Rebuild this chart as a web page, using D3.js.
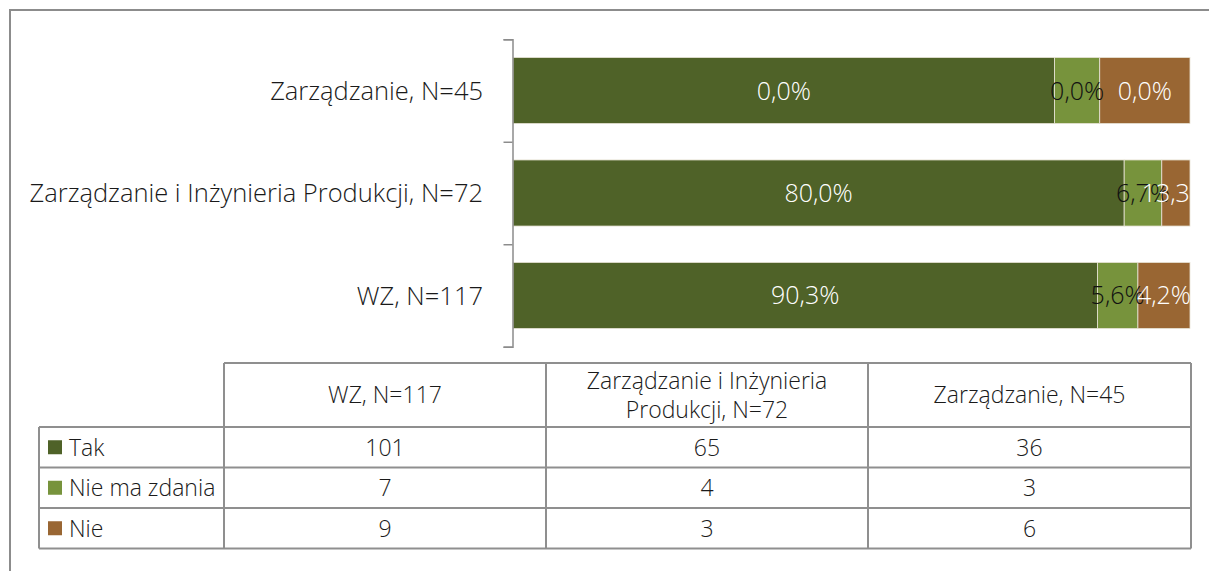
<!DOCTYPE html>
<html>
<head>
<meta charset="utf-8">
<script src="https://cdn.jsdelivr.net/npm/d3@7"></script>
<style>
  body { margin: 0; background: #fff; }
  svg text { font-family: "Open Sans", "Noto Sans", sans-serif; font-weight: 300; fill: #1a1a1a; }
</style>
</head>
<body>
<svg id="chart" width="1209" height="571"></svg>
<script>
// data, table order
const categories = ["WZ, N=117", "Zarządzanie i Inżynieria Produkcji, N=72", "Zarządzanie, N=45"];
const headerLines = [["WZ, N=117"], ["Zarządzanie i Inżynieria", "Produkcji, N=72"], ["Zarządzanie, N=45"]];
const seriesNames = ["Tak", "Nie ma zdania", "Nie"];
const tak = [101, 65, 36];
const nieMaZdania = [7, 4, 3];
const nie = [9, 3, 6];
// labels as printed on the bars in the picture
const takLabels = ["90,3%", "80,0%", "0,0%"];
const nieMaZdaniaLabels = ["5,6%", "6,7%", "0,0%"];
const nieLabels = ["4,2%", "13,3%", "0,0%"];

const colors = ["#4f6228", "#77933c", "#996633"];
const labelColors = ["#ffffff", "#111111", "#ffffff"];

const values = [tak, nieMaZdania, nie];
const labels = [takLabels, nieMaZdaniaLabels, nieLabels];

const svg = d3.select("#chart");

// outer frame (only top and left visible)
svg.append("path")
  .attr("d", "M10,571 V10 H1209")
  .attr("fill", "none")
  .attr("stroke", "#8c8c8c")
  .attr("stroke-width", 2);

const plotTop = 39.3, plotBottom = 346.7;
const x = d3.scaleLinear().domain([0, 1]).range([513, 1190]);
const y = d3.scaleBand()
  .domain(categories.slice().reverse())
  .range([plotTop, plotBottom])
  .paddingInner(0.355)
  .paddingOuter(0.1775);

// stacked shares
const rows = categories.map((c, i) => {
  const total = tak[i] + nieMaZdania[i] + nie[i];
  let acc = 0;
  return values.map((s, k) => {
    const seg = { cat: c, k: k, x0: acc / total, x1: (acc + s[i]) / total, label: labels[k][i] };
    acc += s[i];
    return seg;
  });
}).flat();

svg.append("clipPath").attr("id", "plotclip")
  .append("rect").attr("x", 513).attr("y", plotTop).attr("width", 1190 - 513).attr("height", plotBottom - plotTop);

svg.append("g").selectAll("rect")
  .data(rows)
  .enter()
  .append("rect")
  .attr("x", d => x(d.x0))
  .attr("y", d => y(d.cat))
  .attr("width", d => x(d.x1) - x(d.x0))
  .attr("height", y.bandwidth())
  .attr("fill", d => colors[d.k])
  .attr("stroke", "#e8e4d8")
  .attr("stroke-width", 0.8);

svg.append("g").attr("clip-path", "url(#plotclip)")
  .selectAll("text")
  .data(rows)
  .enter()
  .append("text")
  .attr("x", d => (x(d.x0) + x(d.x1)) / 2)
  .attr("y", d => y(d.cat) + y.bandwidth() / 2)
  .attr("dy", "0.36em")
  .attr("text-anchor", "middle")
  .style("font-size", "25px")
  .style("fill", d => labelColors[d.k])
  .text(d => d.label);

// category axis with ticks between categories
const yb = d3.scaleLinear().domain([0, categories.length]).range([plotTop, plotBottom]);
const axis = svg.append("g")
  .attr("transform", "translate(512.5,0)")
  .call(d3.axisLeft(yb).ticks(categories.length).tickSize(9).tickSizeOuter(9).tickFormat(""));
axis.selectAll("path, line").attr("stroke", "#8c8c8c").attr("stroke-width", 1.5);

svg.append("g").selectAll("text")
  .data(categories)
  .enter()
  .append("text")
  .attr("x", 483)
  .attr("y", d => y(d) + y.bandwidth() / 2)
  .attr("dy", "0.36em")
  .attr("text-anchor", "end")
  .style("font-size", "25.5px")
  .text(d => d);

// data table
const colX = [39, 224, 546, 868, 1191];
const rowY = [363, 427, 467.5, 508, 548.5];
const table = svg.append("g");
const lineColor = "#8f8f8f";

// horizontal lines
rowY.forEach((yy, i) => {
  table.append("line")
    .attr("x1", i === 0 ? colX[1] : colX[0]).attr("x2", colX[4])
    .attr("y1", yy).attr("y2", yy)
    .attr("stroke", lineColor).attr("stroke-width", 2);
});
// vertical lines
colX.forEach((xx, i) => {
  table.append("line")
    .attr("x1", xx).attr("x2", xx)
    .attr("y1", i === 0 ? rowY[1] : rowY[0]).attr("y2", rowY[4])
    .attr("stroke", lineColor).attr("stroke-width", 2);
});

// header
headerLines.forEach((lines, j) => {
  const cx = (colX[j + 1] + colX[j + 2]) / 2;
  const cy = (rowY[0] + rowY[1]) / 2;
  lines.forEach((t, l) => {
    table.append("text")
      .attr("x", cx)
      .attr("y", cy + (l - (lines.length - 1) / 2) * 29)
      .attr("dy", "0.36em")
      .attr("text-anchor", "middle")
      .style("font-size", "23px")
      .text(t);
  });
});

// legend keys and counts
seriesNames.forEach((name, k) => {
  const cy = (rowY[k + 1] + rowY[k + 2]) / 2;
  table.append("rect")
    .attr("x", 48).attr("y", cy - 7)
    .attr("width", 14).attr("height", 14)
    .attr("fill", colors[k]);
  table.append("text")
    .attr("x", 69).attr("y", cy)
    .attr("dy", "0.36em")
    .style("font-size", "23px")
    .text(name);
  values[k].forEach((v, j) => {
    table.append("text")
      .attr("x", (colX[j + 1] + colX[j + 2]) / 2)
      .attr("y", cy)
      .attr("dy", "0.36em")
      .attr("text-anchor", "middle")
      .style("font-size", "23px")
      .text(v);
  });
});
</script>
</body>
</html>
